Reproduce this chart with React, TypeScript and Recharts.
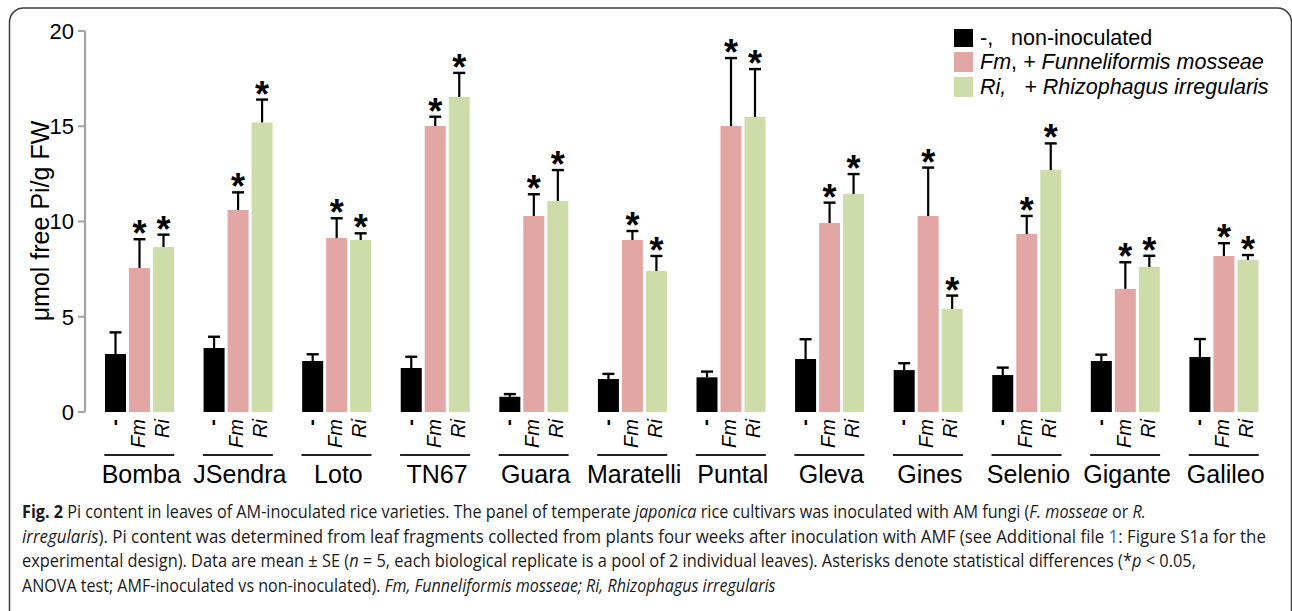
import React, { useLayoutEffect, useRef, useState } from "react";
import { BarChart, Bar, XAxis, YAxis } from "recharts";

// rice cultivars
const VARIETIES = [
  "Bomba", "JSendra", "Loto", "TN67", "Guara", "Maratelli",
  "Puntal", "Gleva", "Gines", "Selenio", "Gigante", "Galileo",
];

// µmol free Pi / g FW, mean and SE
const CTRL = [3.04, 3.36, 2.68, 2.31, 0.8, 1.73, 1.82, 2.78, 2.2, 1.94, 2.68, 2.89];
const CTRL_SE = [1.14, 0.59, 0.35, 0.59, 0.14, 0.27, 0.3, 1.04, 0.36, 0.39, 0.33, 0.94];
const FM = [7.56, 10.6, 9.13, 15.01, 10.29, 9.03, 15.01, 9.92, 10.29, 9.34, 6.46, 8.19];
const FM_SE = [1.51, 0.93, 1.04, 0.49, 1.14, 0.47, 3.57, 1.07, 2.54, 0.95, 1.4, 0.67];
const RI = [8.66, 15.2, 9.03, 16.54, 11.08, 7.4, 15.49, 11.44, 5.41, 12.7, 7.61, 7.98];
const RI_SE = [0.65, 1.2, 0.35, 1.26, 1.62, 0.79, 2.51, 1.05, 0.7, 1.4, 0.59, 0.26];

// significance vs non-inoculated (*p < 0.05)
const FM_SIG = [true, true, true, true, true, true, true, true, true, true, true, true];
const RI_SIG = [true, true, true, true, true, true, true, true, true, true, true, true];

const Y_TICKS = [0, 5, 10, 15, 20];
const BAR_LABELS = ["-", "Fm", "Ri"];
const SEPARATORS = [0, 1, 2, 3, 4, 5, 6, 7, 8, 9, 10, 11, 12];

const BLACK = "#000000";
const PINK = "#e2a7a5";
const GREEN = "#cddca9";
const AXIS_GREY = "#a3a3a3";
const FONT = "'Liberation Sans', Arial, Helvetica, sans-serif";
const CAPTION_FONT = "'Open Sans', 'Noto Sans', sans-serif";

const data = VARIETIES.map((name, i) => ({
  name,
  ctrl: CTRL[i],
  ctrlSe: CTRL_SE[i],
  fm: FM[i],
  fmSe: FM_SE[i],
  fmSig: FM_SIG[i],
  ri: RI[i],
  riSe: RI_SE[i],
  riSig: RI_SIG[i],
}));

const BAR_SIZE = 21;
const BAR_GAP = 3;

// error segment stacked on top of the mean bar: one-sided whisker + asterisk
const errShape = (sigKey?: string) => (props: any) => {
  const { x, y, width, height, payload } = props;
  if (x == null || y == null || isNaN(y)) return <g />;
  const cx = x + width / 2;
  const star = sigKey ? payload && payload[sigKey] : false;
  return (
    <g>
      <line x1={cx} x2={cx} y1={y + height} y2={y} stroke="#000" strokeWidth={2.2} />
      <line x1={cx - 6} x2={cx + 6} y1={y} y2={y} stroke="#000" strokeWidth={2.4} />
      {star && (
        <text x={cx} y={y + 7} textAnchor="middle" fontSize={36} fontWeight={700} fontFamily={FONT} fill="#000">
          *
        </text>
      )}
    </g>
  );
};

const GroupTick = (props: any) => {
  const { x, y, payload } = props;
  const step = BAR_SIZE + BAR_GAP;
  return (
    <g>
      {BAR_LABELS.map((lab, k) => (
        <text
          key={lab}
          transform={`translate(${x + (k - 1) * step - 1.5},${y + 7}) rotate(-90)`}
          textAnchor="end"
          dy="0.35em"
          fontSize={20}
          fontStyle={k === 0 ? "normal" : "italic"}
          fontWeight={k === 0 ? 700 : 400}
          fontFamily={FONT}
          fill="#000"
        >
          {lab}
        </text>
      ))}
      <line x1={x - 35} x2={x + 35} y1={y + 43} y2={y + 43} stroke="#222" strokeWidth={2} />
      <text x={x + 2} y={y + 71} textAnchor="middle" fontSize={25} fontFamily={FONT} fill="#000">
        {payload.value}
      </text>
    </g>
  );
};

const CAPTION_LINES = [
  {
    len: 1125,
    parts: [
      { t: "Fig. 2", b: true },
      { t: " Pi content in leaves of AM-inoculated rice varieties. The panel of temperate " },
      { t: "japonica", i: true },
      { t: " rice cultivars was inoculated with AM fungi (" },
      { t: "F. mosseae", i: true },
      { t: " or " },
      { t: "R.", i: true },
    ],
  },
  {
    len: 1245,
    parts: [
      { t: "irregularis", i: true },
      { t: "). Pi content was determined from leaf fragments collected from plants four weeks after inoculation with AMF (see Additional file " },
      { t: "1", c: "#3a66c4" },
      { t: ": Figure S1a for the" },
    ],
  },
  {
    len: 1175,
    parts: [
      { t: "experimental design). Data are mean \u00b1 SE (" },
      { t: "n", i: true },
      { t: " = 5, each biological replicate is a pool of 2 individual leaves). Asterisks denote statistical differences (*" },
      { t: "p", i: true },
      { t: " < 0.05," },
    ],
  },
  {
    len: 754,
    parts: [
      { t: "ANOVA test; AMF-inoculated vs non-inoculated). " },
      { t: "Fm, Funneliformis mosseae; Ri, Rhizophagus irregularis", i: true },
    ],
  },
];

function Caption() {
  const refs = useRef<(SVGTextElement | null)[]>([]);
  const [scales, setScales] = useState<number[]>(CAPTION_LINES.map(() => 1));
  useLayoutEffect(() => {
    const next = CAPTION_LINES.map((line, i) => {
      const el = refs.current[i];
      const w = el ? el.getComputedTextLength() : 0;
      return w > 0 ? line.len / w : 1;
    });
    setScales(next);
  }, []);
  return (
    <g fontFamily={CAPTION_FONT} fontSize={18} fill="#1a1a1a">
      {CAPTION_LINES.map((line, li) => (
        <g key={li} transform={`translate(22,${518 + li * 24.6}) scale(${scales[li]},1)`}>
          <text ref={(el) => { refs.current[li] = el; }} x={0} y={0}>
            {line.parts.map((p: any, pi) => (
              <tspan
                key={pi}
                fontWeight={p.b ? 700 : 400}
                fontStyle={p.i ? "italic" : "normal"}
                fill={p.c || "#1a1a1a"}
              >
                {p.t}
              </tspan>
            ))}
          </text>
        </g>
      ))}
    </g>
  );
}

export default function App() {
  return (
    <div style={{ position: "absolute", left: 0, top: 0, width: 1292, height: 611, background: "#fff", overflow: "hidden" }}>
      <BarChart
        width={1292}
        height={611}
        data={data}
        margin={{ top: 31, right: 19, left: 25, bottom: 119 }}
        barGap={BAR_GAP}
        barSize={BAR_SIZE}
      >
        <XAxis
          xAxisId="grid"
          type="number"
          domain={[0, 12]}
          ticks={SEPARATORS}
          allowDataOverflow
          height={0}
          tick={false}
          tickSize={6}
          axisLine={{ stroke: AXIS_GREY, strokeWidth: 2.2 }}
          tickLine={{ stroke: AXIS_GREY, strokeWidth: 2 }}
        />
        <XAxis
          xAxisId="cat"
          dataKey="name"
          height={80}
          padding={{ left: 5, right: 0 }}
          axisLine={false}
          tickLine={false}
          tickSize={0}
          tickMargin={0}
          interval={0}
          tick={<GroupTick />}
        />
        <YAxis
          width={60}
          domain={[0, 20]}
          ticks={Y_TICKS}
          tickSize={7}
          tickMargin={4}
          axisLine={{ stroke: AXIS_GREY, strokeWidth: 2.2 }}
          tickLine={{ stroke: AXIS_GREY, strokeWidth: 2 }}
          tick={{ fill: "#000", fontSize: 22, fontFamily: FONT }}
        />
        <Bar xAxisId="cat" dataKey="ctrl" stackId="ctrl" fill={BLACK} isAnimationActive={false} />
        <Bar xAxisId="cat" dataKey="ctrlSe" stackId="ctrl" fill="none" shape={errShape()} isAnimationActive={false} />
        <Bar xAxisId="cat" dataKey="fm" stackId="fm" fill={PINK} isAnimationActive={false} />
        <Bar xAxisId="cat" dataKey="fmSe" stackId="fm" fill="none" shape={errShape("fmSig")} isAnimationActive={false} />
        <Bar xAxisId="cat" dataKey="ri" stackId="ri" fill={GREEN} isAnimationActive={false} />
        <Bar xAxisId="cat" dataKey="riSe" stackId="ri" fill="none" shape={errShape("riSig")} isAnimationActive={false} />
      </BarChart>

      <svg
        width={1292}
        height={611}
        style={{ position: "absolute", left: 0, top: 0, pointerEvents: "none" }}
      >
        {/* figure frame */}
        <rect x={9.5} y={8} width={1282} height={700} rx={14} fill="none" stroke="#3c3c3c" strokeWidth={1.5} />

        {/* y axis title */}
        <text
          transform="translate(49,221) rotate(-90)"
          textAnchor="middle"
          fontSize={25}
          fontFamily={FONT}
          fill="#000"
        >
          μmol free Pi/g FW
        </text>

        {/* legend */}
        <g fontFamily={FONT} fontSize={21.5} fill="#000">
          <rect x={954} y={29} width={19} height={18} fill={BLACK} />
          <rect x={954} y={52} width={19} height={20} fill={PINK} />
          <rect x={954} y={77} width={19} height={20} fill={GREEN} />
          <text x={980} y={45} xmlSpace="preserve">
            -,{"   "}non-inoculated
          </text>
          <text x={980} y={69}>
            <tspan fontStyle="italic">Fm</tspan>
            <tspan>, </tspan>
            <tspan fontStyle="italic">+ Funneliformis mosseae</tspan>
          </text>
          <text x={980} y={94} fontStyle="italic" xmlSpace="preserve">
            Ri,{"   "}+ Rhizophagus irregularis
          </text>
        </g>

        <Caption />
      </svg>
    </div>
  );
}
